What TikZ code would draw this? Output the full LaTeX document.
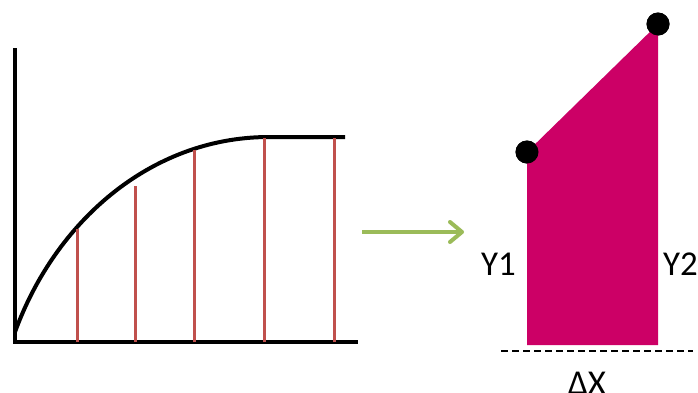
\documentclass[tikz,border=0pt]{standalone}
\usepackage{fontspec}
\setmainfont{Carlito}
\definecolor{barRed}{RGB}{192, 80, 77}
\definecolor{arrowGreen}{RGB}{155, 187, 89}
\definecolor{areaMagenta}{RGB}{204, 0, 102}
\usetikzlibrary{arrows.meta, positioning}

\begin{document}
\begin{tikzpicture}[x=1bp, y=-1bp,
    axis/.style={line width=4bp, black},
    bar/.style={line width=3bp, barRed},
    dot/.style={circle, fill=black, inner sep=0pt, minimum size=23bp},
    lbl/.style={font=\fontsize{35}{40}\selectfont, inner sep=0pt},
    arr/.style={-{Straight Barb[length=12bp, width=20bp, line cap=round, line join=round]},
                line width=4bp, arrowGreen}
  ]
    \useasboundingbox (0,0) rectangle (698,392);

    % Axes
    \coordinate (origin) at (15, 342);
    \draw[axis] (15, 48) -- (origin) -- (358, 342);

    % Curve
    \draw[axis] (15, 332) .. controls (55, 222) and (150, 138) .. (267, 137) -- (345, 137);

    % Strips
    \foreach \x/\y in {77/229, 135/186, 194/150, 264/138, 334/138}
      \draw[bar] (\x, 342) -- (\x, \y);

    % Arrow
    \coordinate (arrStart) at (362, 232);
    \coordinate (arrEnd) at (464, 232);
    \draw[arr] (arrStart) -- (arrEnd);

    % Trapezoid
    \coordinate (b1) at (527, 345);
    \coordinate (b2) at (658, 345);
    \node[dot] (p1) at (527, 152) {};
    \node[dot] (p2) at (658, 24) {};
    \fill[areaMagenta] (b1) -- (p1.center) -- (p2.center) -- (b2) -- cycle;
    \node[dot] at (p1.center) {};
    \node[dot] at (p2.center) {};

    % Base
    \draw[line width=1.5bp, dash pattern=on 7bp off 4bp] (501, 351) -- (693, 351);

    % Labels
    \node[lbl, anchor=base east] (y1) at (516, 275) {Y1};
    \node[lbl, anchor=base west] (y2) at (663, 275) {Y2};
    \node[lbl, anchor=base] (dx) at (587, 394) {ΔX};
  \end{tikzpicture}
\end{document}
